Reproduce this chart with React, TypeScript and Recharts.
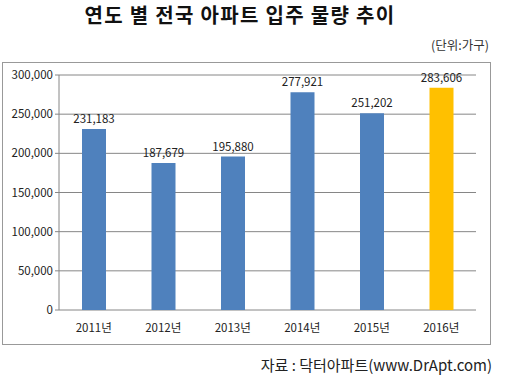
import { Bar, BarChart, CartesianGrid, Cell, LabelList, XAxis, YAxis } from "recharts";

const YEARS = ["2011년", "2012년", "2013년", "2014년", "2015년", "2016년"];
const MOVE_INS = [231183, 187679, 195880, 277921, 251202, 283606];
const BAR_COLORS = ["#4F81BD", "#4F81BD", "#4F81BD", "#4F81BD", "#4F81BD", "#FFC000"];
const Y_TICKS = [0, 50000, 100000, 150000, 200000, 250000, 300000];
const BOUNDARY_TICKS = [0, 1, 2, 3, 4, 5, 6];

const FONT = "'Noto Sans CJK KR', 'Noto Sans', sans-serif";
const fmt = (v: number) => v.toLocaleString("en-US");

const data = YEARS.map((year, i) => ({ year, value: MOVE_INS[i], idx: i + 0.5 }));

export default function App() {
  return (
    <div style={{ position: "absolute", left: 0, top: 0, width: 511, height: 388, background: "#fff", fontFamily: FONT }}>
      <div
        style={{
          position: "absolute",
          left: 0,
          top: 0,
          width: 480,
          textAlign: "center",
          fontSize: 20,
          fontWeight: 700,
          letterSpacing: 1.3,
          color: "#111",
        }}
      >
        연도 별 전국 아파트 입주 물량 추이
      </div>
      <div style={{ position: "absolute", right: 22, top: 35, fontSize: 12.5, color: "#333" }}>(단위:가구)</div>
      <div
        style={{
          position: "absolute",
          left: 2,
          top: 62,
          width: 487,
          height: 281,
          border: "1px solid #999",
        }}
      >
        <BarChart width={487} height={281} data={data} margin={{ top: 12, right: 14, left: 0, bottom: 0 }}>
          <CartesianGrid vertical={false} stroke="#868686" />
          <XAxis
            xAxisId="edges"
            type="number"
            dataKey="idx"
            domain={[0, 6]}
            ticks={BOUNDARY_TICKS}
            tick={false}
            tickLine={{ stroke: "#868686" }}
            tickSize={5}
            axisLine={{ stroke: "#868686" }}
            height={0}
          />
          <XAxis
            dataKey="year"
            axisLine={false}
            tickLine={false}
            height={34}
            tickMargin={8}
            interval={0}
            tick={{ fontSize: 11.5, fill: "#222", fontFamily: FONT }}
          />
          <YAxis
            width={56}
            domain={[0, 300000]}
            ticks={Y_TICKS}
            tickFormatter={fmt}
            axisLine={{ stroke: "#868686" }}
            tickLine={{ stroke: "#868686" }}
            tickSize={4}
            tick={{ fontSize: 11.5, fill: "#222", fontFamily: FONT }}
          />
          <Bar dataKey="value" barSize={24} isAnimationActive={false}>
            {data.map((_, i) => (
              <Cell key={`c-${i}`} fill={BAR_COLORS[i]} />
            ))}
            <LabelList
              dataKey="value"
              position="top"
              offset={6}
              formatter={(v: any) => fmt(Number(v))}
              style={{ fontSize: 11.5, fill: "#222", fontFamily: FONT }}
            />
          </Bar>
        </BarChart>
      </div>
      <div style={{ position: "absolute", right: 19, top: 354, fontSize: 15, color: "#222" }}>
        자료 : 닥터아파트(www.DrApt.com)
      </div>
    </div>
  );
}
